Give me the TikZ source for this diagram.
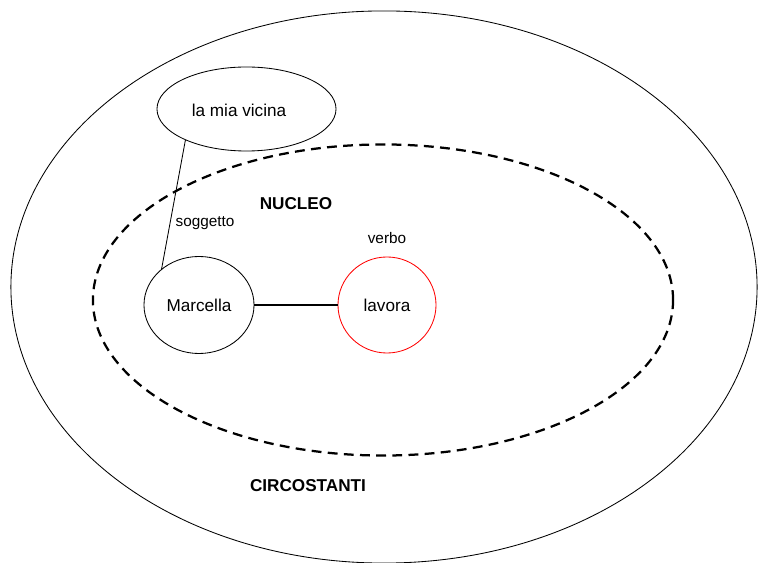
\documentclass[tikz,border=0pt]{standalone}
\usepackage{fontspec}
\setmainfont{Liberation Sans}
\usetikzlibrary{shapes.geometric}

\newcommand{\bigtxt}{\fontsize{12.2}{14}\selectfont}
\newcommand{\smalltxt}{\fontsize{10.9}{13}\selectfont}

\begin{document}
\begin{tikzpicture}[x=0.025cm, y=-0.025cm]
            \tikzstyle{zone}=[ellipse,draw,inner sep=0pt]
            \tikzstyle{word}=[ellipse,draw,inner sep=0pt,font=\bigtxt]
            \tikzstyle{tag}=[inner sep=1pt,font=\smalltxt]
            \tikzstyle{title}=[inner sep=1pt,font=\bigtxt\bfseries]
            \useasboundingbox (0,0) rectangle (758,563);

            \node[zone, line width=0.6pt, minimum width=18.65cm, minimum height=13.8cm] (circ) at (384,287) {};
            \node[zone, line width=1.6pt, dash pattern=on 7pt off 4.5pt, minimum width=14.5cm, minimum height=7.775cm] (nucl) at (383,300) {};

            \node[word, line width=0.6pt, minimum width=4.475cm, minimum height=2.1cm] (vicina) at (246.5,109) {};
            \node[inner sep=1pt, font=\bigtxt] (vicinatxt) at (239,110) {la mia vicina};
            \node[word, line width=0.6pt, minimum width=2.75cm, minimum height=2.425cm] (marcella) at (199,305) {Marcella};
            \node[word, line width=0.6pt, draw=red, minimum width=2.45cm, minimum height=2.4cm] (lavora) at (387,305) {lavora};

            \node[tag] (sogg) at (205,223) {soggetto};
            \node[tag] (verbo) at (387,238) {verbo};
            \node[title] (nucleo) at (296,204) {NUCLEO};
            \node[title] (circostanti) at (308,486) {CIRCOSTANTI};

            \draw[line width=0.6pt] (vicina.207) -- (marcella.136);
            \draw[line width=1.6pt] (marcella.east) -- (lavora.west);
        \end{tikzpicture}
\end{document}
